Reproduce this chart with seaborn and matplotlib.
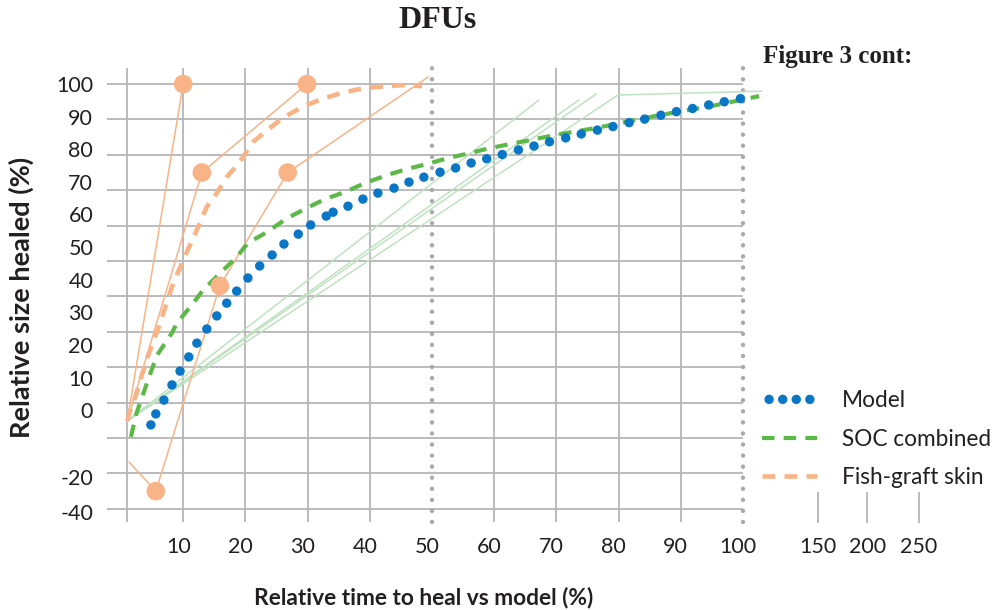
import numpy as np
import pandas as pd
import matplotlib
matplotlib.use("Agg")
import matplotlib.pyplot as plt
import seaborn as sns
from matplotlib.transforms import ScaledTranslation

# ---- data ---------------------------------------------------------------
model_x = [4.8, 5.6, 6.9, 8.2, 9.5, 10.9, 12.2, 13.8, 15.4, 17.0, 18.6, 20.4,
           22.3, 24.3, 26.2, 28.5, 30.5, 33.0, 34.1, 36.5, 38.9, 41.3, 43.9,
           46.3, 48.7, 51.3, 53.8, 56.3, 58.8, 61.3, 63.9, 66.4, 68.9, 71.5,
           74.0, 76.6, 79.1, 81.7, 84.2, 86.8, 89.3, 91.9, 94.5, 97.0, 99.6]
model_y = [3.7, 6.8, 10.7, 15.0, 18.9, 22.9, 26.8, 30.8, 34.5, 38.1, 41.5, 45.2,
           48.6, 51.7, 54.8, 57.6, 60.2, 62.7, 63.8, 65.5, 67.5, 69.2, 70.6,
           72.3, 73.7, 75.1, 76.3, 77.7, 78.9, 80.1, 81.4, 82.5, 83.7, 84.8,
           85.9, 87.0, 88.0, 89.1, 90.1, 91.2, 92.2, 93.1, 94.1, 95.0, 95.9]

soc_x = [1.6, 2.4, 3.5, 4.5, 5.8, 8.2, 9.0, 11.4, 13.2, 15.9, 18.6, 20.4, 23.5,
         26.7, 29.9, 32.8, 36.0, 39.2, 42.8, 46.0, 49.2, 52.6, 56.1, 59.3, 69.8,
         76.4, 86.5, 95.0, 110.8]
soc_y = [0.3, 6.5, 12.1, 17.2, 23.4, 29.7, 32.5, 37.6, 41.8, 46.5, 51.1, 55.1,
         58.2, 62.1, 65.0, 67.5, 69.5, 72.0, 74.3, 76.0, 77.4, 79.1, 80.5, 81.9,
         85.6, 87.6, 91.2, 93.8, 96.6]

fish_x = [1.0, 1.4, 2.4, 3.4, 4.5, 5.9, 8.2, 10.0, 12.2, 13.8, 15.4, 17.0, 19.1,
          21.2, 23.5, 26.0, 29.1, 32.3, 35.5, 39.2, 42.8, 45.3, 48.4]
fish_y = [4.8, 7.3, 12.1, 18.1, 24.0, 30.5, 42.7, 50.3, 58.8, 65.3, 69.2, 73.7,
          78.0, 83.6, 87.0, 90.4, 93.5, 95.8, 97.5, 98.9, 99.4, 99.7, 99.4]

# individual SOC studies (thin light green)
soc_study = ["a", "a", "b", "b", "c", "c", "d", "d", "d"]
soc_study_x = [1.0, 67.2, 1.0, 73.6, 1.0, 76.4, 1.0, 79.9, 112.7]
soc_study_y = [4.8, 95.5, 4.8, 95.5, 4.8, 97.2, 4.8, 96.9, 98.0]

# individual fish-graft studies (thin orange)
fish_study = ["a", "a", "b", "b", "b", "c", "c", "c", "c", "c"]
fish_study_x = [1.0, 10.0, 1.0, 13.0, 29.9, 1.3, 5.6, 15.9, 26.8, 49.4]
fish_study_y = [4.8, 100, 4.8, 75, 100, -13.6, -30, 43, 75, 102]
fish_pt_x = [10.0, 13.0, 29.9, 5.6, 15.9, 26.8]
fish_pt_y = [100, 75, 100, -30, 43, 75]

x_grid = [1, 10, 20, 30, 40, 60, 70, 80, 90]
x_ref = [50, 100]
x_break = [150, 200, 250]
x_ticks = [10, 20, 30, 40, 50, 60, 70, 80, 90, 100, 150, 200, 250]
y_grid = [100, 90, 80, 70, 60, 50, 40, 30, 20, 10, 0, -20, -40]
y_tick_labels = ["100", "90", "80", "70", "60", "50", "40", "30", "20", "10",
                 "0", "-20", "-40"]
# labels in the original drift away from the grid lines
y_tick_pos = [100, 90.7, 81.6, 72.3, 63.3, 54.0, 44.6, 35.6, 26.3, 16.9, 7.9,
              -21.9, -41.6]

BLUE = "#0a77c6"
GREEN = "#5cb947"
LGREEN = "#bfe2c0"
ORANGE = "#f8b486"
GRID = "#b5b5b8"
DOTS = "#a9a9ac"
TEXT = "#231f20"

sns.set_theme(style="white")
plt.rcParams["font.family"] = ["Lato", "DejaVu Sans"]

# broken axes: beyond 100 the x axis is compressed, below 0 the y axis too
XB = [-10, 100, 150, 200, 250, 300]
XT = [-10, 100, 112, 120, 128.3, 136.6]


def fwd_x(x):
    return np.interp(x, XB, XT)


def inv_x(t):
    return np.interp(t, XT, XB)


def fwd_y(y):
    y = np.asarray(y, dtype=float)
    return np.where(y >= 0, y, y / 2)


def inv_y(t):
    t = np.asarray(t, dtype=float)
    return np.where(t >= 0, t, t * 2)


fig = plt.figure(figsize=(9.97, 6.10), dpi=100)
ax = fig.add_axes([105 / 997, 80 / 610, 855 / 997, 470 / 610])
ax.set_xscale("function", functions=(fwd_x, inv_x))
ax.set_yscale("function", functions=(fwd_y, inv_y))

# grid
ax.hlines(y_grid, -2.25, 100, color=GRID, lw=1.3, zorder=1)
ax.vlines(x_grid, -47.5, 104.5, color=GRID, lw=1.3, zorder=1)
ax.vlines(x_break, -30.5, -47.8, color=GRID, lw=1.3, zorder=1)
for xr in x_ref:
    ax.plot([xr, xr], [-47.5, 104.5], color=DOTS, lw=3.2,
            linestyle=(0, (0.01, 2.48)), dash_capstyle="round", zorder=2)

soc_df = pd.DataFrame({"study": soc_study, "x": soc_study_x, "y": soc_study_y})
fish_df = pd.DataFrame({"study": fish_study, "x": fish_study_x, "y": fish_study_y})

sns.lineplot(data=soc_df, x="x", y="y", units="study", estimator=None,
             sort=False, color=LGREEN, lw=1.1, legend=False, ax=ax, zorder=3)
sns.lineplot(data=fish_df, x="x", y="y", units="study", estimator=None,
             sort=False, color=ORANGE, lw=1.1, legend=False, ax=ax, zorder=4)
sns.lineplot(x=fish_x, y=fish_y, sort=False, estimator=None, color=ORANGE,
             lw=3.3, linestyle=(0, (2.8, 2.0)), label="Fish-graft skin",
             ax=ax, zorder=5)
sns.lineplot(x=soc_x, y=soc_y, sort=False, estimator=None, color=GREEN,
             lw=3.0, linestyle=(0, (3.0, 2.2)), label="SOC combined",
             ax=ax, zorder=6)
sns.scatterplot(x=model_x, y=model_y, s=46, color=BLUE, edgecolor="none",
                label="Model", ax=ax, zorder=7)
sns.scatterplot(x=fish_pt_x, y=fish_pt_y, s=180, color=ORANGE,
                edgecolor="none", legend=False, ax=ax, zorder=8)

ax.set_xlim(-2.57, inv_x(134.9))
ax.set_ylim(-52, 106.8)
ax.set_xlabel("")
ax.set_ylabel("")
for s in ax.spines.values():
    s.set_visible(False)

ax.set_xticks(x_ticks, [str(v) for v in x_ticks])
ax.set_yticks(y_tick_pos, y_tick_labels)
ax.tick_params(axis="both", length=0, labelsize=15.5, colors=TEXT)
ax.tick_params(axis="y", pad=8.5)
ax.tick_params(axis="x", pad=5)
off = ScaledTranslation(-5 / 100, 0, fig.dpi_scale_trans)
for lab in ax.get_xticklabels()[:10]:
    lab.set_transform(lab.get_transform() + off)

handles, labels = ax.get_legend_handles_labels()
order = ["Model", "SOC combined", "Fish-graft skin"]
hmap = dict(zip(labels, handles))
ax.legend([hmap[k] for k in order], order, loc="upper left",
          bbox_to_anchor=(751 / 997, 1 - 379 / 610), bbox_transform=fig.transFigure,
          frameon=False, fontsize=16.3, scatterpoints=4, scatteryoffsets=[0.5],
          handlelength=2.4, handletextpad=1.1, labelspacing=0.76, borderpad=0,
          labelcolor=TEXT)

fig.text(438 / 997, 1 - 20 / 610, "DFUs", ha="center", va="center",
         family=["Liberation Serif", "DejaVu Serif"], fontweight="bold",
         fontsize=23, color=TEXT)
fig.text(763 / 997, 1 - 57 / 610, "Figure 3 cont:", ha="left", va="center",
         family=["Liberation Serif", "DejaVu Serif"], fontweight="bold",
         fontsize=18, color=TEXT)
fig.text(424 / 997, 1 - 597 / 610, "Relative time to heal vs model (%)",
         ha="center", va="center", fontweight="bold", fontsize=16.4, color=TEXT)
fig.text(21 / 997, 1 - 297 / 610, "Relative size healed (%)", ha="center",
         va="center", rotation=90, fontweight="bold", fontsize=19.5, color=TEXT)

fig.savefig("out.png", dpi=100)
